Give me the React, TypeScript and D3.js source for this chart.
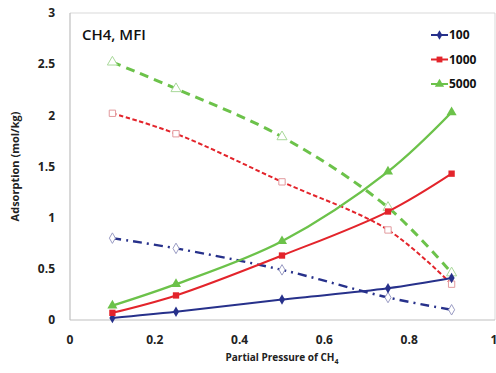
import React from "react";
import * as d3 from "d3";

const pressures = [0.1, 0.25, 0.5, 0.75, 0.9];
const series100 = [0.02, 0.08, 0.2, 0.31, 0.41];
const series1000 = [0.07, 0.24, 0.63, 1.06, 1.43];
const series5000 = [0.14, 0.35, 0.77, 1.45, 2.03];
const open100 = [0.8, 0.7, 0.49, 0.22, 0.1];
const open1000 = [2.02, 1.82, 1.35, 0.88, 0.35];
const open5000 = [2.52, 2.26, 1.79, 1.1, 0.46];
const xTicks = [0, 0.2, 0.4, 0.6, 0.8, 1];
const yTicks = [0, 0.5, 1, 1.5, 2, 2.5, 3];
const legendLabels = ["100", "1000", "5000"];

const BLUE = "#27318b";
const RED = "#e3242b";
const GREEN = "#6cc24a";
const FONT = "'Open Sans', 'Noto Sans', sans-serif";

const W = 496;
const H = 373;
const left = 70;
const right = 494;
const top = 13;
const bottom = 320;

const x = d3.scaleLinear().domain([0, 1]).range([left, right]);
const y = d3.scaleLinear().domain([0, 3]).range([bottom, top]);

const line = d3
  .line<number>()
  .x((_, i) => x(pressures[i]))
  .y((d) => y(d))
  .curve(d3.curveCatmullRom.alpha(0.5));

const sym = (type: d3.SymbolType, size: number) => d3.symbol().type(type).size(size)()!;

type Marker = "diamond" | "square" | "triangle";

function markerPath(m: Marker, scale = 1) {
  if (m === "diamond") return sym(d3.symbolDiamond, 32 * scale);
  if (m === "square") return sym(d3.symbolSquare, 40 * scale);
  return sym(d3.symbolTriangle, 44 * scale);
}

const solidSeries = [
  { values: series100, color: BLUE, marker: "diamond" as Marker, width: 2 },
  { values: series1000, color: RED, marker: "square" as Marker, width: 2 },
  { values: series5000, color: GREEN, marker: "triangle" as Marker, width: 2.4 },
];

const openSeries = [
  { values: open100, color: BLUE, edge: "#9a9cc4", marker: "diamond" as Marker, dash: "9,5,2,5", width: 2.4 },
  { values: open1000, color: RED, edge: "#e29a9e", marker: "square" as Marker, dash: "4.5,2.5", width: 2 },
  { values: open5000, color: GREEN, edge: "#a9d99a", marker: "triangle" as Marker, dash: "9,6", width: 3 },
];

export default function App() {
  return (
    <svg
      width={W}
      height={H}
      style={{ position: "absolute", left: 0, top: 0, background: "#fff" }}
      fontFamily={FONT}
    >
      <rect x={0} y={0} width={W} height={H} fill="#fff" />
      {/* plot frame */}
      <line x1={left} x2={right + 1} y1={top} y2={top} stroke="#d9d9d9" strokeWidth={1} />
      <line x1={right + 1} x2={right + 1} y1={top} y2={bottom} stroke="#d9d9d9" strokeWidth={1} />
      <line x1={left} x2={left} y1={top} y2={bottom} stroke="#bfbfbf" strokeWidth={1.2} />
      <line x1={left} x2={right + 1} y1={bottom} y2={bottom} stroke="#bfbfbf" strokeWidth={1.2} />

      {/* y ticks */}
      {yTicks.map((t) => (
        <text
          key={"y" + t}
          x={55}
          y={y(t)}
          dy="0.35em"
          textAnchor="end"
          fontSize={12}
          fontWeight={700}
          fill="#222"
        >
          {t}
        </text>
      ))}
      {/* x ticks */}
      {xTicks.map((t) => (
        <text
          key={"x" + t}
          x={x(t)}
          y={340}
          dy="0.35em"
          textAnchor="middle"
          fontSize={12}
          fontWeight={700}
          fill="#222"
        >
          {t}
        </text>
      ))}

      {/* axis titles */}
      <text
        transform={`translate(15,${(top + bottom) / 2}) rotate(-90)`}
        textAnchor="middle"
        dy="0.35em"
        fontSize={11}
        fontWeight={700}
        fill="#222"
      >
        Adsorption (mol/kg)
      </text>
      <text x={282} y={357} dy="0.35em" textAnchor="middle" fontSize={10} fontWeight={700} fill="#222">
        Partial Pressure of CH
        <tspan fontSize={7} dy="3">4</tspan>
      </text>

      <text x={82} y={35} dy="0.35em" fontSize={15} fontWeight={600} fill="#111">
        CH4, MFI
      </text>

      {/* dashed series with open markers */}
      {openSeries.map((s, k) => (
        <g key={"o" + k}>
          <path d={line(s.values)!} fill="none" stroke={s.color} strokeWidth={s.width} strokeDasharray={s.dash} />
          {s.values.map((v, i) => (
            <path
              key={i}
              d={markerPath(s.marker, 1)}
              transform={`translate(${x(pressures[i])},${y(v)})`}
              fill="#fff"
              stroke={s.edge}
              strokeWidth={1}
            />
          ))}
        </g>
      ))}

      {/* solid series with filled markers */}
      {solidSeries.map((s, k) => (
        <g key={"s" + k}>
          <path d={line(s.values)!} fill="none" stroke={s.color} strokeWidth={s.width} />
          {s.values.map((v, i) => (
            <path
              key={i}
              d={markerPath(s.marker)}
              transform={`translate(${x(pressures[i])},${y(v)})`}
              fill={s.color}
            />
          ))}
        </g>
      ))}

      {/* legend */}
      {legendLabels.map((lab, i) => {
        const s = solidSeries[i];
        const ly = 35 + i * 24.5;
        return (
          <g key={lab}>
            <line x1={431} x2={448} y1={ly} y2={ly} stroke={s.color} strokeWidth={2} />
            <path d={markerPath(s.marker, 0.85)} transform={`translate(439.5,${ly})`} fill={s.color} />
            <text x={449} y={ly} dy="0.35em" fontSize={12} fontWeight={700} fill="#111">
              {lab}
            </text>
          </g>
        );
      })}
    </svg>
  );
}
